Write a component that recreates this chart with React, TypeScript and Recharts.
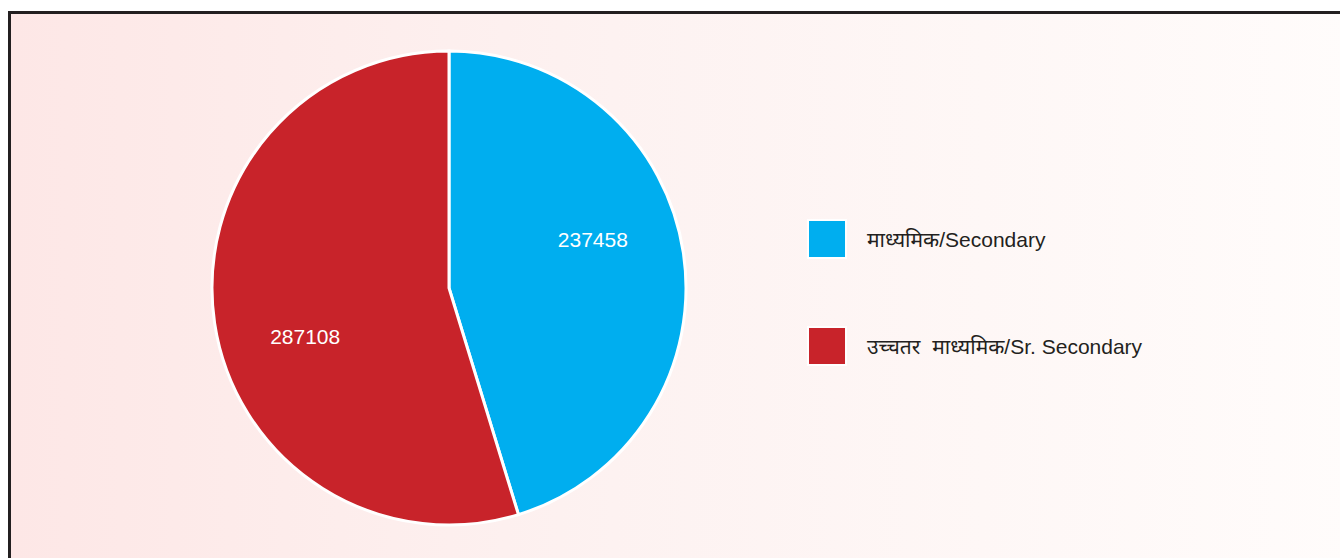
import React from 'react'
import { PieChart, Pie, Cell } from 'recharts'

const categories = ['माध्यमिक/Secondary', 'उच्चतर माध्यमिक/Sr. Secondary']
const students = [237458, 287108]
const colors = ['#00aeef', '#c8232a']

const data = categories.map((name, i) => ({ name, value: students[i] }))

const RADIAN = Math.PI / 180
const FONT = "'Liberation Sans', Arial, 'Noto Sans', sans-serif"

// labels sit a little anticlockwise of the slice middle, like the original
function renderLabel(props: any) {
  const { cx, cy, midAngle, outerRadius, value } = props
  const r = outerRadius * 0.64
  const a = (midAngle + 10) * RADIAN
  const x = cx + r * Math.cos(-a)
  const y = cy + r * Math.sin(-a)
  return (
    <text x={x} y={y} fill="#ffffff" fontSize={21} textAnchor="middle" dominantBaseline="central" fontFamily={FONT}>
      {value}
    </text>
  )
}

export default function App() {
  return (
    <div style={{ position: 'absolute', left: 0, top: 0, width: 1340, height: 558, overflow: 'hidden', background: '#ffffff' }}>
      <div style={{
        position: 'absolute', left: 8, top: 11, width: 1340, height: 560,
        borderLeft: '3px solid #231f20', borderTop: '3px solid #231f20',
        background: 'linear-gradient(to right, #fde7e6 0%, #fdf2f1 45%, #fffcfb 100%)',
      }} />
      <div style={{ position: 'absolute', left: 0, top: 0 }}>
        <PieChart width={1340} height={558} margin={{ top: 0, right: 0, bottom: 0, left: 0 }}>
          <Pie
            data={data}
            dataKey="value"
            nameKey="name"
            cx={449}
            cy={288}
            outerRadius={237}
            startAngle={90}
            endAngle={-270}
            stroke="#ffffff"
            strokeWidth={3}
            label={renderLabel}
            labelLine={false}
            isAnimationActive={false}
          >
            {data.map((d, i) => (
              <Cell key={d.name} fill={colors[i]} />
            ))}
          </Pie>
        </PieChart>
      </div>
      <div style={{ position: 'absolute', left: 807, top: 219, fontFamily: FONT }}>
        {categories.map((name, i) => {
          const [hi, en] = name.split('/')
          return (
            <div key={name} style={{ display: 'flex', alignItems: 'center', height: 40, marginBottom: i === 0 ? 67 : 0 }}>
              <div style={{ width: 40, height: 40, boxSizing: 'border-box', background: colors[i], border: '2px solid #ffffff' }} />
              <span style={{ marginLeft: 20, fontSize: 21, color: '#231f20', whiteSpace: 'nowrap' }}>
                <span style={{ wordSpacing: 6 }}>{hi}</span>/{en}
              </span>
            </div>
          )
        })}
      </div>
    </div>
  )
}
